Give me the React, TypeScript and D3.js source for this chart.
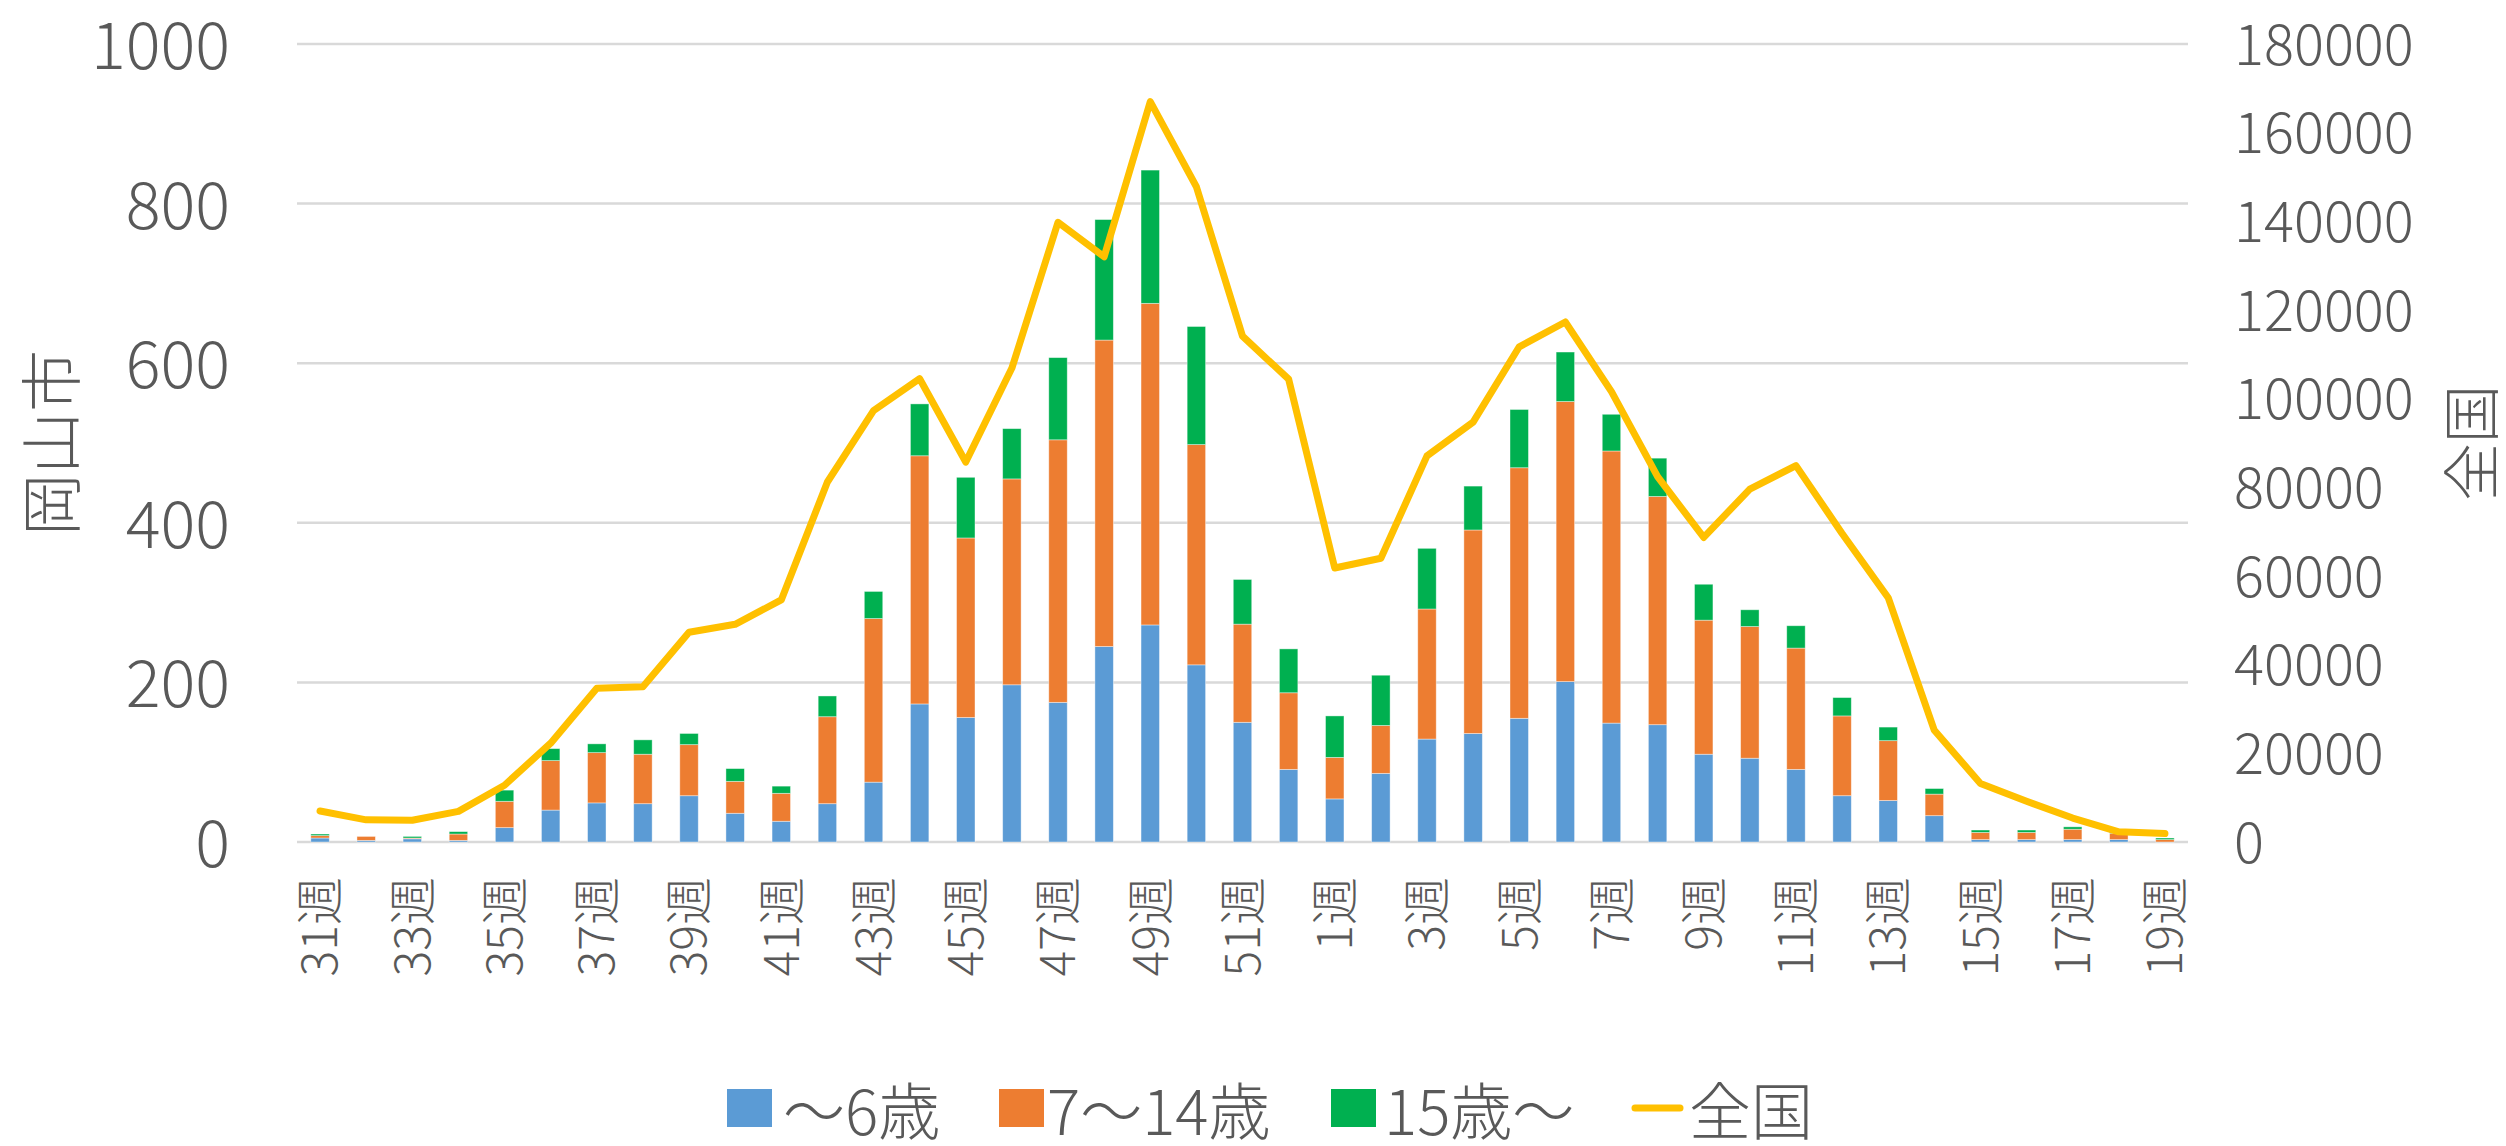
import React from "react";
import * as d3 from "d3";

const weeks = [
  "31週", "32週", "33週", "34週", "35週", "36週", "37週", "38週", "39週", "40週",
  "41週", "42週", "43週", "44週", "45週", "46週", "47週", "48週", "49週", "50週",
  "51週", "52週", "1週", "2週", "3週", "4週", "5週", "6週", "7週", "8週",
  "9週", "10週", "11週", "12週", "13週", "14週", "15週", "16週", "17週", "18週", "19週",
];

// 岡山市 (stacked)
const age0to6 = [
  5, 2, 4, 2, 18, 40, 49, 48, 58, 36, 26, 48, 75, 173, 156, 197, 175, 245, 272, 222,
  150, 91, 54, 86, 129, 136, 155, 201, 149, 147, 110, 105, 91, 58, 52, 33, 3, 3, 3, 3, 0,
];
const age7to14 = [
  3, 5, 1, 8, 33, 62, 63, 62, 64, 40, 35, 109, 205, 311, 225, 258, 329, 384, 403, 276,
  123, 96, 52, 60, 163, 255, 314, 351, 341, 286, 168, 165, 152, 100, 75, 27, 9, 9, 13, 8, 3,
];
const age15plus = [
  2, 0, 2, 3, 14, 15, 11, 18, 14, 16, 9, 26, 34, 65, 76, 63, 103, 151, 167, 148,
  56, 55, 52, 63, 76, 55, 73, 62, 46, 48, 45, 21, 28, 23, 17, 7, 3, 3, 3, 2, 2,
];

// 全国 (right axis)
const national = [
  7000, 5000, 4900, 6900, 12800, 22300, 34700, 35000, 47300, 49100, 54600, 81200, 97300,
  104500, 85700, 106900, 139800, 132000, 167000, 147800, 114100, 104400, 61800, 64000,
  87100, 94700, 111700, 117300, 101600, 82400, 68700, 79600, 84900, 69600, 55100, 25200,
  13200, 9200, 5400, 2300, 1900,
];

const leftTicks = [0, 200, 400, 600, 800, 1000];
const rightTicks = [0, 20000, 40000, 60000, 80000, 100000, 120000, 140000, 160000, 180000];

const seriesNames = ["～6歳", "7～14歳", "15歳～"];
const lineName = "全国";
const colors = ["#5B9BD5", "#ED7D31", "#00B050"];
const lineColor = "#FFC000";
const textColor = "#595959";
const font = "'Noto Sans CJK JP', 'Noto Sans', sans-serif";

const W = 2506;
const H = 1146;
const plot = { left: 297, right: 2188, top: 44, bottom: 842 };

export default function App() {
  const x = d3
    .scaleBand<string>()
    .domain(weeks)
    .range([plot.left, plot.right])
    .paddingInner(0.6)
    .paddingOuter(0.3);
  const yL = d3.scaleLinear().domain([0, 1000]).range([plot.bottom, plot.top]);
  const yR = d3.scaleLinear().domain([0, 180000]).range([plot.bottom, plot.top]);

  const table = weeks.map((w, i) => ({
    week: w,
    a: age0to6[i],
    b: age7to14[i],
    c: age15plus[i],
  }));
  const stack = d3.stack<any>().keys(["a", "b", "c"])(table);

  const cx = (w: string) => (x(w) as number) + x.bandwidth() / 2;
  const line = d3
    .line<number>()
    .x((_, i) => cx(weeks[i]))
    .y((d) => yR(d));

  // legend layout
  const legendY = 1108;
  const legendItems = [
    { sx: 727, tx: 783 },
    { sx: 999, tx: 1047 },
    { sx: 1331, tx: 1384 },
  ];

  return (
    <svg
      width={W}
      height={H}
      style={{ position: "absolute", left: 0, top: 0, display: "block", background: "#fff" }}
      fontFamily={font}
      fontWeight={300}
    >
      {/* gridlines */}
      {leftTicks.map((t) => (
        <line
          key={t}
          x1={plot.left}
          x2={plot.right}
          y1={yL(t)}
          y2={yL(t)}
          stroke="#d9d9d9"
          strokeWidth={2.5}
        />
      ))}

      {/* stacked bars */}
      {stack.map((s, si) => (
        <g key={si} fill={colors[si]}>
          {s.map((d, i) => (
            <rect
              key={i}
              x={x(weeks[i])}
              width={x.bandwidth()}
              y={yL(d[1])}
              height={Math.max(0, yL(d[0]) - yL(d[1]))}
              stroke="#ffffff"
              strokeOpacity={0.5}
              strokeWidth={0.8}
            />
          ))}
        </g>
      ))}

      {/* national line */}
      <path
        d={line(national) || ""}
        fill="none"
        stroke={lineColor}
        strokeWidth={7}
        strokeLinejoin="round"
        strokeLinecap="round"
      />

      {/* left axis labels */}
      {leftTicks.map((t) => (
        <text
          key={t}
          x={230}
          y={yL(t) - 3}
          textAnchor="end"
          dominantBaseline="central"
          fontSize={65}
          fill={textColor}
        >
          {t}
        </text>
      ))}

      {/* right axis labels */}
      {rightTicks.map((t) => (
        <text
          key={t}
          x={2234}
          y={yR(t) - 4}
          textAnchor="start"
          dominantBaseline="central"
          fontSize={56}
          fill={textColor}
        >
          {t}
        </text>
      ))}

      {/* x labels, every other week */}
      {weeks.map((w, i) =>
        i % 2 === 0 ? (
          <text
            key={w}
            transform={`translate(${cx(w)},877) rotate(-90)`}
            textAnchor="end"
            dy="0.36em"
            fontSize={48}
            fill={textColor}
          >
            {w}
          </text>
        ) : null
      )}

      {/* axis titles */}
      <text
        transform={`translate(48,${(plot.top + plot.bottom) / 2}) rotate(-90)`}
        textAnchor="middle"
        dominantBaseline="central"
        fontSize={62}
        fill={textColor}
      >
        岡山市
      </text>
      <text
        transform={`translate(2468,${(plot.top + plot.bottom) / 2}) rotate(-90)`}
        textAnchor="middle"
        dominantBaseline="central"
        fontSize={58}
        fill={textColor}
      >
        全国
      </text>

      {/* legend */}
      {legendItems.map((it, i) => (
        <g key={i}>
          <rect x={it.sx} y={legendY - 19} width={45} height={38} fill={colors[i]} />
          <text
            x={it.tx}
            y={legendY}
            dominantBaseline="central"
            fontSize={62}
            fill={textColor}
          >
            {seriesNames[i]}
          </text>
        </g>
      ))}
      <line
        x1={1635}
        x2={1680}
        y1={legendY}
        y2={legendY}
        stroke={lineColor}
        strokeWidth={7}
        strokeLinecap="round"
      />
      <text x={1689} y={legendY} dominantBaseline="central" fontSize={62} fill={textColor}>
        {lineName}
      </text>
    </svg>
  );
}
